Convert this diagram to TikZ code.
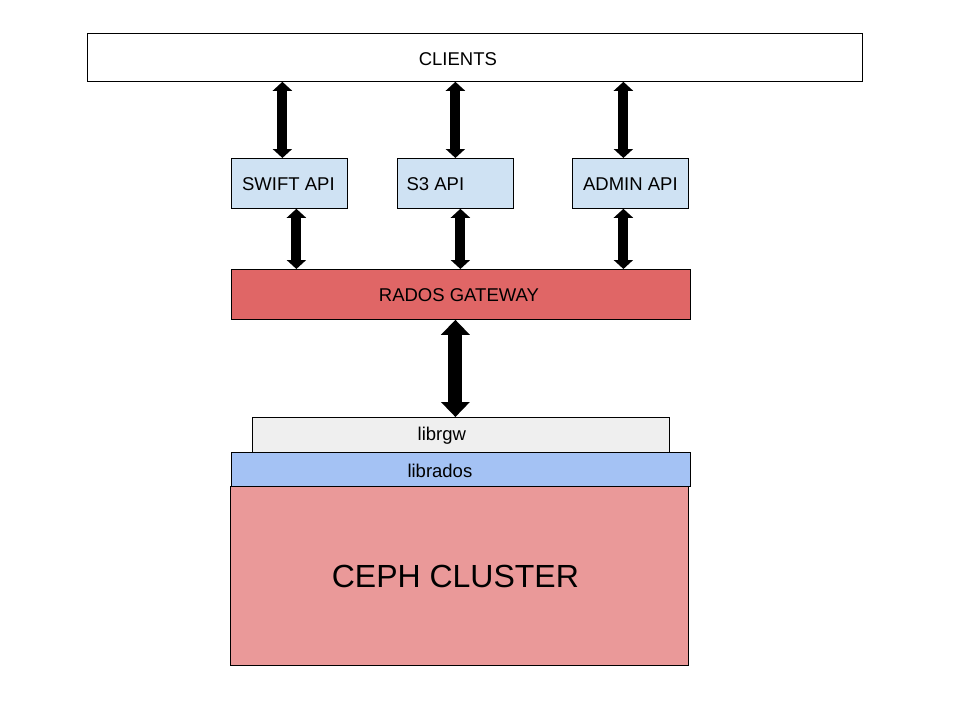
\documentclass[tikz,border=0pt]{standalone}
\usepackage{fontspec}
\setmainfont{Liberation Sans}
\usetikzlibrary{arrows.meta}
\definecolor{apiblue}{HTML}{CFE2F3}
\definecolor{gwred}{HTML}{E06666}
\definecolor{rgwgray}{HTML}{EFEFEF}
\definecolor{radosblue}{HTML}{A4C2F4}
\definecolor{cephpink}{HTML}{EA9999}
\tikzset{
  box/.style={draw=black, line width=0.8pt, inner sep=0pt, anchor=north west},
  every label/.style={font=\fontsize{18.5}{22}\selectfont, inner sep=0pt, yshift=-1pt},
  dblarrow/.style={line width=10pt, {Triangle[width=19pt,length=9pt]}-{Triangle[width=19pt,length=9pt]}},
  bigarrow/.style={line width=14pt, {Triangle[width=28pt,length=15pt]}-{Triangle[width=28pt,length=15pt]}}
}
\begin{document}
\begin{tikzpicture}[x=1pt,y=-1pt]
\useasboundingbox[fill=white] (0,0) rectangle (960,720);
\node[box, fill=white, minimum width=775pt, minimum height=48pt, label={[xshift=-17pt, yshift=-0.5pt]center:CLIENTS}] (clients) at (87,33) {};
\node[box, fill=apiblue, minimum width=116pt, minimum height=50pt, label={[xshift=-1pt]center:SWIFT API}] (swift) at (231,158) {};
\node[box, fill=apiblue, minimum width=116pt, minimum height=50pt, label={[xshift=-20pt]center:S3 API}] (s3) at (397,158) {};
\node[box, fill=apiblue, minimum width=116pt, minimum height=50pt, label={[xshift=0pt]center:ADMIN API}] (admin) at (572,158) {};
\node[box, fill=gwred, minimum width=459pt, minimum height=50pt, label={[xshift=-2pt]center:RADOS GATEWAY}] (gw) at (231,269) {};
\node[box, fill=cephpink, minimum width=458pt, minimum height=179pt, label={[xshift=-4pt, font=\fontsize{32}{38}\selectfont]center:CEPH CLUSTER}] (ceph) at (230,486) {};
\node[box, fill=rgwgray, minimum width=417pt, minimum height=35pt, label={[xshift=-19pt]center:librgw}] (rgw) at (252,417) {};
\node[box, fill=radosblue, minimum width=459pt, minimum height=34pt, label={[xshift=-21pt]center:librados}] (rados) at (231,452) {};
% arrows clients <-> APIs
\draw[dblarrow] ([xshift=-7pt]swift.north) -- ([xshift=-7pt]swift.north |- clients.south);
\draw[dblarrow] (s3.north) -- (s3.north |- clients.south);
\draw[dblarrow] ([xshift=-7pt]admin.north) -- ([xshift=-7pt]admin.north |- clients.south);
% arrows APIs <-> gateway
\draw[dblarrow] ([xshift=7pt]swift.south) -- ([xshift=7pt]swift.south |- gw.north);
\draw[dblarrow] ([xshift=5pt]s3.south) -- ([xshift=5pt]s3.south |- gw.north);
\draw[dblarrow] ([xshift=-7pt]admin.south) -- ([xshift=-7pt]admin.south |- gw.north);
% gateway <-> librgw
\draw[bigarrow] ([xshift=-5.5pt]gw.south) -- ([xshift=-5.5pt]gw.south |- rgw.north);
\end{tikzpicture}
\end{document}
